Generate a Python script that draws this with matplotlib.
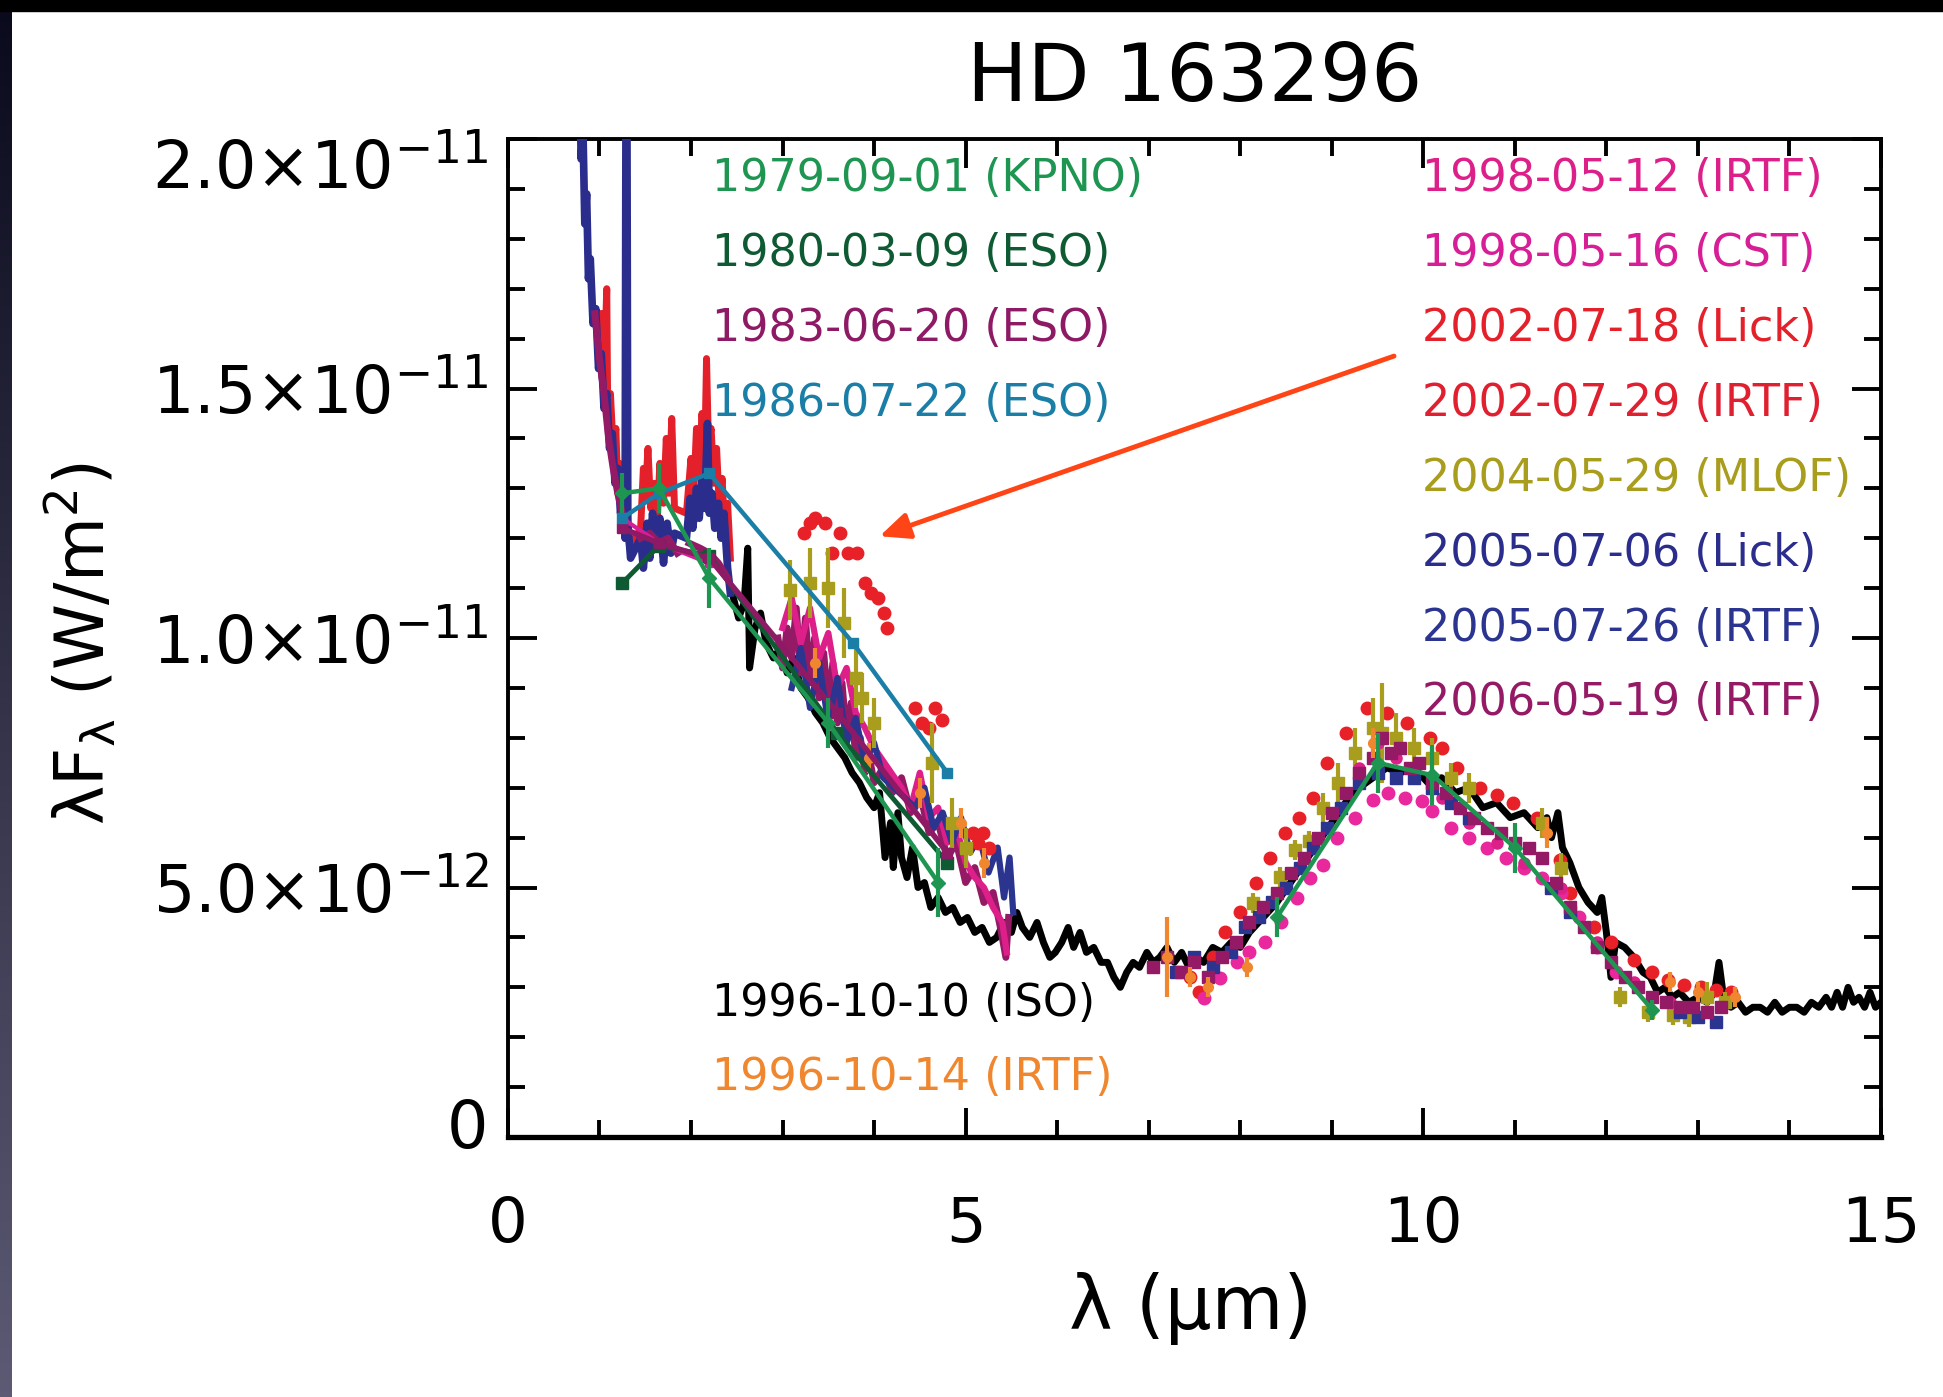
import numpy as np
import matplotlib
matplotlib.use("Agg")
from matplotlib import pyplot as plt
from matplotlib.patches import Rectangle
from matplotlib.transforms import ScaledTranslation

nan = np.nan

# flux values are in units of 1e-12 W/m^2, wavelength in micron

# 1996-10-10 ISO spectrum
iso_x = [2.45, 2.52, 2.58, 2.62, 2.64, 2.70, 2.76, 2.82, 2.90, 2.98, 3.05, 3.12, 3.20, 3.28, 3.36,
         3.44, 3.52, 3.60, 3.68, 3.76, 3.84, 3.92, 4.00, 4.06, 4.12, 4.18, 4.21, 4.26, 4.30, 4.36,
         4.42, 4.48, 4.55, 4.62, 4.70, 4.78, 4.86, 4.94, 5.02, 5.10, 5.18, 5.26, 5.34, 5.42, 5.50,
         5.56, 5.62, 5.70, 5.78, 5.85, 5.92, 5.98, 6.05, 6.12, 6.18, 6.25, 6.32, 6.40, 6.48, 6.55,
         6.62, 6.69, 6.76, 6.83, 6.90, 6.98, 7.05, 7.12, 7.20, 7.28, 7.36, 7.44, 7.52, 7.60, 7.70,
         7.80, 7.90, 8.00, 8.10, 8.25, 8.40, 8.55, 8.70, 8.85, 9.00, 9.15, 9.30, 9.45, 9.60, 9.75,
         9.90, 10.05, 10.20, 10.35, 10.50, 10.65, 10.80, 10.95, 11.10, 11.25, 11.35, 11.40, 11.47,
         11.52, 11.60, 11.70, 11.80, 11.90, 11.95, 12.00, 12.05, 12.10, 12.20, 12.30, 12.40, 12.48,
         12.56, 12.64, 12.72, 12.80, 12.90, 13.00, 13.10, 13.18, 13.23, 13.28, 13.36, 13.44, 13.52,
         13.60, 13.68, 13.76, 13.84, 13.92, 14.00, 14.08, 14.16, 14.24, 14.32, 14.40, 14.46, 14.52,
         14.58, 14.64, 14.70, 14.76, 14.82, 14.88, 14.94, 15.00]
iso_y = [10.9, 10.4, 10.7, 11.8, 9.4, 10.2, 10.5, 9.9, 9.6, 9.8, 9.3, 9.6, 9.0, 8.8, 8.5,
         8.3, 8.0, 7.8, 7.6, 7.3, 7.1, 6.8, 6.6, 6.9, 5.6, 6.3, 5.4, 6.5, 5.6, 5.2,
         5.8, 5.0, 5.1, 4.6, 4.8, 4.5, 4.6, 4.3, 4.4, 4.1, 4.2, 3.9, 4.0, 4.3, 4.1,
         4.5, 4.2, 4.0, 4.3, 3.9, 3.6, 3.7, 3.9, 4.2, 3.8, 4.1, 3.7, 3.8, 3.5, 3.5,
         3.2, 3.0, 3.3, 3.5, 3.4, 3.7, 3.5, 3.6, 3.8, 3.5, 3.7, 3.4, 3.6, 3.5, 3.8,
         3.7, 3.9, 3.8, 4.1, 4.4, 4.7, 5.1, 5.5, 5.9, 6.3, 6.7, 7.0, 7.2, 7.4, 7.3,
         7.4, 7.1, 7.2, 6.9, 7.0, 6.6, 6.7, 6.4, 6.5, 6.2, 6.4, 6.0, 6.5,
         5.8, 5.5, 5.0, 4.7, 4.5, 4.8, 4.1, 3.2, 3.9, 3.8, 3.6, 3.3, 3.2,
         2.9, 3.0, 2.8, 2.9, 2.7, 2.8, 2.7, 2.9, 3.5, 2.8, 2.6, 2.7, 2.5,
         2.6, 2.6, 2.5, 2.7, 2.5, 2.6, 2.6, 2.5, 2.7, 2.6, 2.8, 2.6, 2.9,
         2.6, 3.0, 2.7, 2.8, 2.6, 2.9, 2.6, 2.7]

# 2005-07-06 Lick spectrum
lick05_x = [0.68, 0.71, 0.73, 0.76, 0.78, 0.80, 0.82, 0.84, 0.86, 0.88, 0.90, 0.93, 0.96, 0.99,
            1.02, 1.05, 1.08, 1.11, 1.14, 1.17, 1.20, 1.23, 1.26, 1.28, 1.29, 1.30, 1.31, 1.34,
            1.45, 1.48, 1.52, 1.55, 1.58, 1.62, 1.66, 1.70, 1.74, 1.78, 1.82, 1.95, 1.99, 2.02,
            2.06, 2.09, 2.12, 2.15, 2.18, 2.20, 2.23, 2.26, 2.30, 2.33, 2.36, 2.40, 2.43]
lick05_y = [24.0, 21.5, 23.0, 20.6, 21.8, 19.6, 20.2, 18.3, 18.9, 17.2, 17.6, 16.3, 16.6, 15.4,
            15.7, 14.6, 14.9, 13.8, 14.1, 13.1, 13.4, 12.5, 12.8, 12.0, 21.0, 21.0, 12.3, 11.6,
            12.0, 11.4, 12.3, 11.6, 12.5, 11.8, 12.4, 11.5, 12.3, 11.7, 12.1, 12.0, 12.8, 12.2,
            13.0, 12.4, 13.2, 12.6, 14.3, 12.5, 12.9, 12.2, 12.7, 12.0, 12.5, 11.4, 10.9]

# 2002-07-18 Lick spectrum
lick02_x = [1.00, 1.03, 1.06, 1.08, 1.09, 1.12, 1.15, 1.18, 1.20, 1.22, 1.25, 1.28, 1.30, 1.33,
            1.45, 1.48, 1.50, 1.53, 1.56, 1.60, 1.63, 1.66, 1.70, 1.73, 1.76, 1.79, 1.82, 1.95,
            2.00, 2.03, 2.06, 2.09, 2.12, 2.15, 2.17, 2.19, 2.22, 2.25, 2.28, 2.31, 2.34, 2.37,
            2.40, 2.43]
lick02_y = [16.5, 15.2, 15.8, 17.0, 14.6, 14.9, 13.8, 14.2, 12.9, 13.5, 12.4, 12.0, 12.6, 11.8,
            12.2, 13.4, 12.8, 13.8, 12.6, 13.1, 12.3, 13.5, 12.7, 14.0, 12.9, 14.4, 12.6, 12.5,
            13.6, 12.9, 14.2, 13.3, 14.5, 13.6, 15.6, 13.9, 14.2, 13.1, 13.8, 12.6, 13.2, 12.1,
            12.7, 11.6]

# 2006-05-19 IRTF spectrum and 10 micron points
irtf06_x = [0.95, 1.0, 1.05, 1.1, 1.15, 1.2, 1.25, 1.3, nan, 1.45, 1.55, 1.65, 1.75, 1.85, nan,
            1.98, 2.1, 2.2, 2.3, 2.4, nan,
            2.95, 3.0, 3.05, 3.1, 3.15, 3.2, 3.25, 3.3, 3.35, 3.4, 3.45, 3.5, 3.55, 3.6, 3.65,
            3.7, 3.75, 3.8, 3.85, 3.9, 3.95, 4.0, 4.1, 4.2, 4.3, 4.4, 4.5, 4.6, 4.7, 4.8, 4.9,
            5.0, 5.1, 5.2, 5.3, 5.38, 5.44, 5.47]
irtf06_y = [16.5, 15.6, 14.9, 14.0, 13.4, 12.9, 12.5, 12.3, nan, 12.0, 12.1, 11.9, 12.0, 11.7, nan,
            11.9, 11.8, 11.7, 11.5, 11.2, nan,
            10.0, 9.4, 10.2, 9.6, 10.6, 9.3, 10.4, 9.1, 10.0, 8.8, 9.7, 8.6, 9.5, 8.3, 9.1,
            8.0, 8.7, 7.6, 8.0, 7.3, 7.6, 7.1, 7.4, 6.9, 7.2, 6.5, 6.9, 6.1, 6.3, 5.6, 5.9,
            5.1, 5.4, 4.7, 4.9, 4.2, 3.6, 4.4]
irtf06_mir_x = [7.05, 7.2, 7.35, 7.5, 7.65, 7.8, 7.95, 8.1, 8.25, 8.4, 8.55, 8.7, 8.85, 9.0, 9.15,
                9.3, 9.45, 9.55, 9.65, 9.75, 9.85, 9.95, 10.1, 10.25, 10.4, 10.55, 10.7, 10.85,
                11.0, 11.15, 11.3, 11.45, 11.6, 11.75, 11.9, 12.05, 12.2, 12.35, 12.5, 12.65,
                12.8, 12.95, 13.1, 13.25]
irtf06_mir_y = [3.4, 3.6, 3.3, 3.5, 3.2, 3.6, 3.9, 4.3, 4.6, 4.9, 5.3, 5.6, 6.0, 6.5, 6.9,
                7.3, 7.6, 8.0, 7.7, 7.8, 7.4, 7.5, 7.1, 6.9, 6.6, 6.4, 6.2, 6.1,
                5.9, 5.8, 5.6, 5.1, 4.6, 4.2, 3.8, 3.5, 3.2, 3.0, 2.8, 2.7,
                2.6, 2.6, 2.5, 2.6]

# 1998-05-12 IRTF
irtf98_x = [3.0, 3.1, 3.2, 3.3, 3.4, 3.5, 3.6, 3.7, 3.8, 3.9, 4.0, 4.3, 4.4, 4.5, 4.6, 4.7,
            4.8, 4.9, 5.0, 5.1, 5.2, 5.3, 5.4, 5.45]
irtf98_y = [10.2, 10.8, 9.9, 10.6, 9.6, 10.1, 9.0, 9.4, 8.5, 8.2, 7.8, 7.0, 6.6, 7.3, 6.4, 6.6,
            5.9, 6.2, 5.5, 5.2, 5.0, 4.6, 4.3, 3.7]
irtf98_mir_x = [9.3, 9.5, 9.7, 9.9, 10.2, 10.5, 10.8, 11.1, 11.5, 11.9, 12.3, 12.7]
irtf98_mir_y = [7.4, 7.9, 7.6, 7.3, 6.8, 6.3, 5.9, 5.5, 5.0, 3.9, 3.1, 2.7]

# 2005-07-26 IRTF
irtf05_x = [3.1, 3.2, 3.3, 3.4, 3.5, 3.6, 3.7, 3.8, 3.9, 4.0, 4.1, 4.45, 4.55, 4.65, 4.75,
            4.85, 4.95, 5.05, 5.15, 5.25, 5.35, 5.42, 5.48, 5.52]
irtf05_y = [9.0, 9.8, 8.6, 9.5, 8.3, 9.2, 7.9, 8.4, 7.5, 7.9, 7.2, 6.6, 7.0, 6.2, 6.5,
            5.9, 6.4, 5.7, 6.0, 5.3, 5.8, 4.8, 5.6, 4.5]
irtf05_mir_x = [7.3, 7.5, 7.7, 7.9, 8.05, 8.2, 8.35, 8.5, 8.65, 8.8, 8.95, 9.1, 9.3, 9.5, 9.7,
                9.9, 10.1, 10.3, 10.5, 11.4, 11.6, 12.8, 13.0, 13.2]
irtf05_mir_y = [3.3, 3.6, 3.4, 3.7, 4.2, 4.4, 4.7, 5.0, 5.4, 5.8, 6.2, 6.6, 7.1, 7.3, 7.2,
                7.2, 7.0, 6.7, 6.4, 5.0, 4.5, 2.5, 2.4, 2.3]

# 2002-07-29 IRTF
irtf02_x = [3.24, 3.30, 3.36, 3.46, 3.54, 3.63, 3.72, 3.81, 3.90, 3.97, 4.04, 4.11, 4.14,
            4.45, 4.52, 4.60, 4.67, 4.74, 5.08, 5.14, 5.19, 5.26,
            7.45, 7.55, 7.70, 7.83, 8.00, 8.17, 8.33, 8.49, 8.64, 8.80, 8.95, 9.15, 9.38, 9.60,
            9.82, 10.07, 10.20, 10.37, 10.62, 10.80, 10.98, 11.24, 11.49, 11.60, 11.86, 12.05,
            12.30, 12.50, 12.67, 12.85, 13.03, 13.20, 13.36]
irtf02_y = [12.1, 12.3, 12.4, 12.3, 11.7, 12.1, 11.7, 11.7, 11.1, 10.9, 10.8, 10.5, 10.2,
            8.6, 8.3, 8.2, 8.6, 8.35, 6.1, 5.9, 6.1, 5.8,
            3.2, 2.9, 3.6, 4.1, 4.5, 5.1, 5.6, 6.1, 6.4, 6.8, 7.5, 8.1, 8.6, 8.5,
            8.3, 8.0, 7.8, 7.4, 7.0, 6.85, 6.7, 6.4, 5.55, 4.9, 4.2, 3.9,
            3.55, 3.3, 3.15, 3.05, 3.0, 2.95, 2.9]

# 2004-05-29 MLOF
mlof_x = [3.08, 3.30, 3.50, 3.67, 3.80, 3.87, 4.00, 4.63, 4.85, 5.00, 8.14, 8.43, 8.60, 8.75,
          8.90, 9.07, 9.25, 9.45, 9.55, 9.70, 9.90, 10.10, 10.30, 10.50, 11.30, 11.50, 12.15,
          12.45, 12.73, 12.90, 13.10, 13.30]
mlof_y = [10.96, 11.1, 11.0, 10.3, 9.2, 8.8, 8.3, 7.5, 6.3, 5.8, 4.69, 5.22, 5.75, 5.94,
          6.6, 7.1, 7.7, 8.2, 8.1, 8.0, 7.8, 7.6, 7.2, 7.0, 6.3, 5.4, 2.8,
          2.5, 2.45, 2.4, 2.8, 2.7]
mlof_err = [0.6, 0.7, 0.8, 0.7, 0.6, 0.5, 0.5, 0.8, 0.5, 0.4, 0.2, 0.2, 0.2, 0.2,
            0.3, 0.4, 0.5, 0.6, 1.0, 0.5, 0.4, 0.4, 0.3, 0.3, 0.3, 0.3, 0.2,
            0.2, 0.2, 0.2, 0.3, 0.2]

# 1998-05-16 CST
cst_jhk_x = [1.25, 1.65, 2.2]
cst_jhk_y = [12.4, 11.9, 11.5]
cst_x = [7.6, 7.78, 7.96, 8.1, 8.27, 8.45, 8.62, 8.76, 8.9, 9.06, 9.25, 9.45, 9.61, 9.8, 9.99,
         10.1, 10.3, 10.5, 10.7, 10.9, 11.1, 11.3, 11.5, 11.7, 11.9, 12.1]
cst_y = [2.78, 3.18, 3.5, 3.7, 3.9, 4.3, 4.79, 5.2, 5.46, 5.99, 6.4, 6.75, 6.9, 6.8, 6.74,
         6.54, 6.2, 6.0, 5.8, 5.6, 5.4, 5.2, 4.9, 4.4, 3.8, 3.3]

# 1996-10-14 IRTF
irtf96_x = [3.35, 3.95, 4.5, 4.95, 5.2, 7.2, 7.45, 7.65, 8.07, 9.45, 11.35, 12.7, 13.0, 13.4]
irtf96_y = [9.5, 7.6, 6.9, 6.3, 5.5, 3.6, 3.2, 3.0, 3.4, 7.9, 6.1, 3.1, 2.9, 2.8]
irtf96_err = [0.3, 0.3, 0.3, 0.3, 0.3, 0.8, 0.2, 0.2, 0.2, 0.3, 0.3, 0.2, 0.2, 0.2]

# photometry
kpno_x = [1.25, 1.65, 2.2, 3.5, 4.7, nan, 8.4, 9.5, 10.1, 11.0, 12.5]
kpno_y = [12.9, 13.0, 11.2, 8.3, 5.1, nan, 4.4, 7.5, 7.25, 5.8, 2.55]
kpno_err = [0.4, 0.5, 0.6, 0.5, 0.7, nan, 0.4, 0.6, 0.6, 0.5, 0.2]
eso80_x = [1.25, 1.65, 2.2, 3.6, 4.8]
eso80_y = [11.1, 11.85, 11.65, 8.1, 5.5]
eso83_x = [1.25, 1.65, 2.2, 3.6, 4.8]
eso83_y = [12.2, 11.9, 11.6, 8.5, 5.7]
eso86_x = [1.25, 1.65, 2.2, 3.77, 4.8]
eso86_y = [12.4, 12.9, 13.3, 9.9, 7.3]

left_labels = ["1979-09-01 (KPNO)", "1980-03-09 (ESO)", "1983-06-20 (ESO)", "1986-07-22 (ESO)"]
left_colors = ["#1e9652", "#0e5a33", "#8e1a65", "#1a7ea6"]
right_labels = ["1998-05-12 (IRTF)", "1998-05-16 (CST)", "2002-07-18 (Lick)", "2002-07-29 (IRTF)",
                "2004-05-29 (MLOF)", "2005-07-06 (Lick)", "2005-07-26 (IRTF)", "2006-05-19 (IRTF)"]
right_colors = ["#dd1f8a", "#d81e96", "#e4202a", "#e01f2f", "#a89d1c", "#2b2d8c", "#2b3590", "#941a66"]
bottom_labels = ["1996-10-10 (ISO)", "1996-10-14 (IRTF)"]
bottom_colors = ["black", "#f0872e"]

y_ticks = [0, 5, 10, 15, 20]
y_ticklabels = ["0", "5.0×10$^{-12}$", "1.0×10$^{-11}$", "1.5×10$^{-11}$", "2.0×10$^{-11}$"]
x_ticks = [0, 5, 10, 15]

fig = plt.figure(figsize=(19.43, 13.97), dpi=100)

# slide edges
strip = fig.add_axes([0, 0, 12 / 1943, 1])
strip.imshow(np.linspace(0, 1, 256).reshape(-1, 1), aspect="auto",
             cmap=matplotlib.colors.LinearSegmentedColormap.from_list("s", ["#0a0a1c", "#5c5a74"]))
strip.axis("off")
fig.patches.append(Rectangle((0, 1 - 11 / 1397), 1, 11 / 1397, transform=fig.transFigure,
                             color="black", zorder=10))

ax = fig.add_axes([0.2614, 0.1861, 0.7067, 0.7144])

ax.plot(iso_x, iso_y, color="black", lw=5, zorder=2)
ax.plot(lick02_x, lick02_y, color="#e4202a", lw=5, zorder=3)
ax.plot(lick05_x, lick05_y, color="#2b2d8c", lw=5.5, zorder=3)
ax.plot(irtf06_x, irtf06_y, color="#941a66", lw=5, zorder=4)
ax.plot(irtf98_x, irtf98_y, color="#dd1f8a", lw=4.5, zorder=4)
ax.plot(irtf05_x, irtf05_y, color="#2b3590", lw=4.5, zorder=4)

ax.plot(irtf02_x, irtf02_y, "o", color="#e82128", ms=9, zorder=5)
ax.errorbar(mlof_x, mlof_y, yerr=mlof_err, fmt="s", color="#a89d1c", ms=8, elinewidth=3,
            capsize=0, zorder=5)
ax.plot(cst_x, cst_y, "o", color="#e8289c", ms=9, zorder=5)
ax.plot(irtf98_mir_x, irtf98_mir_y, "o", color="#dd1f8a", ms=8, zorder=5)
ax.plot(irtf05_mir_x, irtf05_mir_y, "s", color="#2b3590", ms=8, zorder=6)
ax.plot(irtf06_mir_x, irtf06_mir_y, "s", color="#941a66", ms=8, zorder=6)
ax.errorbar(irtf96_x, irtf96_y, yerr=irtf96_err, fmt="o", color="#f0872e", ms=7, elinewidth=3,
            capsize=0, zorder=6)

ax.plot(cst_jhk_x, cst_jhk_y, "-s", color="#d81e96", lw=3, ms=6, zorder=7)
ax.plot(eso80_x, eso80_y, "-s", color="#0e5a33", lw=3.5, ms=8, zorder=7)
ax.plot(eso83_x, eso83_y, "-s", color="#8e1a65", lw=4, ms=7, zorder=7)
ax.errorbar(kpno_x, kpno_y, yerr=kpno_err, fmt="-D", color="#1e9652", lw=3.2, ms=7,
            elinewidth=3, capsize=0, zorder=8)
ax.plot(eso86_x, eso86_y, "-s", color="#1a7ea6", lw=3.2, ms=7, zorder=8)

ax.annotate("", xy=(4.06, 12.04), xytext=(9.68, 15.65),
            arrowprops=dict(arrowstyle="-|>,head_length=0.45,head_width=0.2",
                            color="#ff4515", lw=3.5, mutation_scale=40, shrinkA=0, shrinkB=0),
            zorder=9)

for i, (lab, col) in enumerate(zip(left_labels, left_colors)):
    ax.text(2.23, 19.2 - 1.5 * i, lab, color=col, fontsize=32, va="center", ha="left", zorder=10)
for i, (lab, col) in enumerate(zip(right_labels, right_colors)):
    ax.text(9.99, 19.2 - 1.5 * i, lab, color=col, fontsize=32, va="center", ha="left", zorder=10)
for i, (lab, col) in enumerate(zip(bottom_labels, bottom_colors)):
    ax.text(2.23, 2.68 - 1.49 * i, lab, color=col, fontsize=32, va="center", ha="left", zorder=10)

ax.set_xlim(0, 15)
ax.set_ylim(0, 20)
ax.set_xticks(x_ticks)
ax.set_xticklabels([str(t) for t in x_ticks])
ax.set_yticks(y_ticks)
ax.set_yticklabels(y_ticklabels)
ax.set_xticks(np.arange(0, 15.1, 1), minor=True)
ax.set_yticks(np.arange(0, 20.1, 1), minor=True)
ax.tick_params(which="both", direction="in", top=True, right=True, width=2.8, colors="black")
ax.tick_params(which="major", length=21, labelsize=45)
ax.tick_params(axis="y", which="major", labelsize=47)
ax.tick_params(which="minor", length=12)
ax.tick_params(axis="x", pad=42)
ax.tick_params(axis="y", pad=14)
for sp in ax.spines.values():
    sp.set_linewidth(2.8)
ax.spines["bottom"].set_linewidth(3.8)

# nudge the end labels like the original
ylabs = ax.get_yticklabels()
ylabs[-1].set_transform(ylabs[-1].get_transform() + ScaledTranslation(0, -0.24, fig.dpi_scale_trans))
ylabs[0].set_transform(ylabs[0].get_transform() + ScaledTranslation(0, 0.14, fig.dpi_scale_trans))

ax.set_xlabel("λ (μm)", fontsize=53)
ax.xaxis.set_label_coords(0.497, -0.135)
ax.set_ylabel("λF$_{\\mathregular{λ}}$ (W/m$^{\\mathregular{2}}$)", fontsize=48)
ax.yaxis.set_label_coords(-0.283, 0.494)
ax.text(0.5, 1.06, "HD 163296", transform=ax.transAxes, fontsize=58, ha="center", va="center")

fig.savefig("out.png", dpi=100)
